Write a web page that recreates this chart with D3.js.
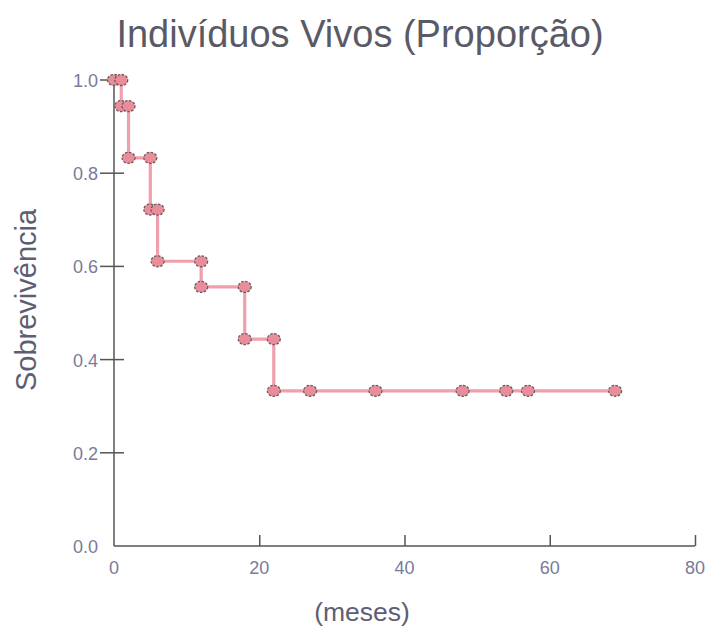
<!DOCTYPE html>
<html><head><meta charset="utf-8">
<script src="https://cdn.jsdelivr.net/npm/d3@7"></script>
<style>body{margin:0;background:#fff;}svg{display:block;}</style>
</head><body>
<svg id="c" width="706" height="631"></svg>
<script>
// Marker points along the Kaplan-Meier step curve (months, survival proportion)
const months   = [0, 1, 1, 2, 2, 5, 5, 6, 6, 12, 12, 18, 18, 22, 22, 27, 36, 48, 54, 57, 69];
const survival = [1.0, 1.0, 0.944, 0.944, 0.833, 0.833, 0.722, 0.722, 0.611, 0.611, 0.556, 0.556, 0.444, 0.444, 0.333, 0.333, 0.333, 0.333, 0.333, 0.333, 0.333];
const xTicks = [0, 20, 40, 60, 80];
const yTicks = [0.0, 0.2, 0.4, 0.6, 0.8, 1.0];
const title = "Indivíduos Vivos (Proporção)";
const xLabel = "(meses)";
const yLabel = "Sobrevivência";

const svg = d3.select("#c");
const x = d3.scaleLinear().domain([0, 80]).range([114, 695]);
const y = d3.scaleLinear().domain([0, 1]).range([546, 80]);
const font = "'Liberation Sans', Arial, sans-serif";
const axisCol = "#555";
const tickTextCol = "#7a7a9c";

// axes
const xAxis = svg.append("g").attr("transform", `translate(0,${y(0)})`)
  .call(d3.axisTop(x).tickValues(xTicks).tickSize(11).tickFormat(""));
xAxis.select(".domain").attr("d", `M${x(0)},0H${x(80)}`);
xAxis.selectAll("line,path").attr("stroke", axisCol).attr("stroke-width", 1.5);
xAxis.selectAll(".tick").filter(d => d === 0).select("line").remove();
svg.append("g").selectAll("text").data(xTicks).join("text")
  .attr("x", d => x(d)).attr("y", y(0) + 28)
  .attr("text-anchor", "middle").attr("font-family", font).attr("font-size", 18)
  .attr("fill", tickTextCol).text(d => d);

const yAxis = svg.append("g").attr("transform", `translate(${x(0)},0)`)
  .call(d3.axisLeft(y).tickValues(yTicks).tickSize(0).tickFormat(""));
yAxis.select(".domain").attr("d", `M0,${y(1)}V${y(0)}`);
yAxis.selectAll("line,path").attr("stroke", axisCol).attr("stroke-width", 1.5);
svg.append("g").selectAll("line").data(yTicks.filter(d => d > 0)).join("line")
  .attr("x1", x(0) - 14).attr("x2", x(0) + 10)
  .attr("y1", d => y(d)).attr("y2", d => y(d))
  .attr("stroke", axisCol).attr("stroke-width", 1.5);
svg.append("g").selectAll("text").data(yTicks).join("text")
  .attr("x", x(0) - 16).attr("y", d => y(d) + 7)
  .attr("text-anchor", "end").attr("font-family", font).attr("font-size", 18)
  .attr("fill", tickTextCol).text(d => d.toFixed(1));

// step line
const pts = months.map((m, i) => [m, survival[i]]);
svg.append("path").datum(pts)
  .attr("d", d3.line().x(d => x(d[0])).y(d => y(d[1])))
  .attr("fill", "none").attr("stroke", "#f0a0ac").attr("stroke-width", 3.2);

// markers
svg.append("g").selectAll("ellipse").data(pts).join("ellipse")
  .attr("cx", d => x(d[0])).attr("cy", d => y(d[1]))
  .attr("rx", 6.5).attr("ry", 5.5)
  .attr("fill", "#e98d9b").attr("stroke", "#6a5a60").attr("stroke-width", 1.3)
  .attr("stroke-dasharray", "2.5,1.5");

// titles
svg.append("text").attr("x", 360).attr("y", 47).attr("text-anchor", "middle")
  .attr("font-family", font).attr("font-size", 38).attr("fill", "#5a5a66").text(title);
svg.append("text").attr("x", 362).attr("y", 621).attr("text-anchor", "middle")
  .attr("font-family", font).attr("font-size", 26.5).attr("fill", "#5e5e72").text(xLabel);
svg.append("text").attr("transform", "translate(36,300) rotate(-90)").attr("text-anchor", "middle")
  .attr("font-family", font).attr("font-size", 29).attr("fill", "#5e5e72").text(yLabel);
</script>
</body></html>
